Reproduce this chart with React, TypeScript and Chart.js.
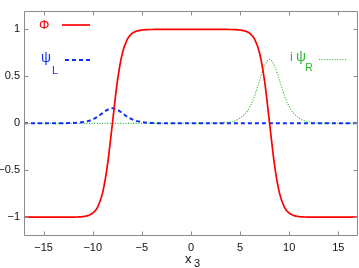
import React, { useEffect, useRef } from "react";
import { Chart, registerables } from "chart.js";

Chart.register(...registerables);

const X = [-17, -16.5, -16, -15.5, -15, -14.5, -14, -13.5, -13, -12.5, -12, -11.5, -11, -10.5, -10, -9.5, -9, -8.5, -8, -7.5, -7, -6.5, -6, -5.5, -5, -4.5, -4, -3.5, -3, -2.5, -2, -1.5, -1, -0.5, 0, 0.5, 1, 1.5, 2, 2.5, 3, 3.5, 4, 4.5, 5, 5.5, 6, 6.5, 7, 7.5, 8, 8.5, 9, 9.5, 10, 10.5, 11, 11.5, 12, 12.5, 13, 13.5, 14, 14.5, 15, 15.5, 16, 16.5, 17];

const PHI = [-1, -1, -1, -1, -1, -1, -1, -1, -0.9999, -0.9996, -0.999, -0.9975, -0.9934, -0.9829, -0.9566, -0.8915, -0.741, -0.4431, 0, 0.4431, 0.741, 0.8915, 0.9566, 0.9829, 0.9934, 0.9975, 0.999, 0.9996, 0.9999, 1, 1, 1, 1, 1, 1,
  1, 1, 1, 1, 1, 0.9999, 0.9996, 0.999, 0.9975, 0.9934, 0.9829, 0.9566, 0.8915, 0.741, 0.4431, 0, -0.4431, -0.741, -0.8915, -0.9566, -0.9829, -0.9934, -0.9975, -0.999, -0.9996, -0.9999, -1, -1, -1, -1, -1, -1, -1, -1];

const PSI_L = [0, 0, 0, 0, 0, 0, 0, 0, 0.001, 0.0019, 0.0036, 0.0068, 0.0128, 0.0235, 0.0419, 0.0705, 0.1083, 0.1444, 0.16, 0.1444, 0.1083, 0.0705, 0.0419, 0.0235, 0.0128, 0.0068, 0.0036, 0.0019, 0.001,
  0, 0, 0, 0, 0, 0, 0, 0, 0, 0, 0, 0, 0, 0, 0, 0, 0, 0, 0, 0, 0, 0, 0, 0, 0, 0, 0, 0, 0, 0, 0, 0, 0, 0, 0, 0, 0, 0, 0, 0];

const PSI_R = [0, 0, 0, 0, 0, 0, 0, 0, 0, 0, 0, 0, 0, 0, 0, 0, 0, 0, 0, 0, 0, 0, 0, 0, 0, 0, 0, 0, 0, 0, 0, 0, 0, 0, 0, 0,
  0.0003, 0.0006, 0.0012, 0.0022, 0.0043, 0.0082, 0.0154, 0.0291, 0.0544, 0.1, 0.178, 0.2998, 0.4603, 0.6138, 0.68, 0.6138, 0.4603, 0.2998, 0.178, 0.1, 0.0544, 0.0291, 0.0154, 0.0082, 0.0043, 0.0022, 0.0012, 0.0006, 0.0003,
  0, 0, 0, 0];

const X_TICKS = [-15, -10, -5, 0, 5, 10, 15];
const Y_TICKS = [-1, -0.5, 0, 0.5, 1];

const RED = "#ff0000";
const BLUE = "#1030f0";
const GREEN = "#30b830";
const FRAME = "#8a8a8a";
const FONT = '"Liberation Sans", Arial, sans-serif';

const pts = (ys: number[]) => X.map((x, i) => ({ x, y: ys[i] }));

const framePlugin = {
  id: "frame",
  afterDatasetsDraw(chart: any) {
    const { ctx, chartArea, scales } = chart;
    const l = Math.round(chartArea.left) + 0.5;
    const r = Math.round(chartArea.right) - 0.5;
    const t = Math.round(chartArea.top) + 0.5;
    const b = Math.round(chartArea.bottom) - 0.5;
    ctx.save();
    ctx.strokeStyle = FRAME;
    ctx.lineWidth = 1;
    ctx.setLineDash([]);
    ctx.beginPath();
    ctx.rect(l, t, r - l, b - t);
    const tl = 4;
    X_TICKS.forEach((v) => {
      const px = Math.round(scales.x.getPixelForValue(v)) + 0.5;
      ctx.moveTo(px, b);
      ctx.lineTo(px, b - tl);
      ctx.moveTo(px, t);
      ctx.lineTo(px, t + tl);
    });
    Y_TICKS.forEach((v) => {
      const py = Math.round(scales.y.getPixelForValue(v)) + 0.5;
      ctx.moveTo(l, py);
      ctx.lineTo(l + tl, py);
      ctx.moveTo(r, py);
      ctx.lineTo(r - tl, py);
    });
    ctx.stroke();

    // in-plot keys
    ctx.textBaseline = "alphabetic";
    ctx.textAlign = "left";
    // Phi
    ctx.fillStyle = RED;
    ctx.font = `13px ${FONT}`;
    ctx.fillText("Φ", 39, 29);
    ctx.strokeStyle = RED;
    ctx.lineWidth = 1.7;
    ctx.beginPath();
    ctx.moveTo(62, 25);
    ctx.lineTo(90, 25);
    ctx.stroke();
    // psi_L
    ctx.fillStyle = BLUE;
    ctx.font = `14px ${FONT}`;
    ctx.fillText("ψ", 41, 62);
    ctx.font = `11px ${FONT}`;
    ctx.fillText("L", 52, 74);
    ctx.strokeStyle = BLUE;
    ctx.lineWidth = 2;
    ctx.setLineDash([4, 3]);
    ctx.beginPath();
    ctx.moveTo(65, 60);
    ctx.lineTo(90, 60);
    ctx.stroke();
    // i psi_R
    ctx.setLineDash([]);
    ctx.fillStyle = GREEN;
    ctx.font = `13px ${FONT}`;
    ctx.fillText("i", 290, 61);
    ctx.font = `14px ${FONT}`;
    ctx.fillText("ψ", 296, 61);
    ctx.font = `11px ${FONT}`;
    ctx.fillText("R", 305, 71);
    ctx.strokeStyle = GREEN;
    ctx.lineWidth = 1.2;
    ctx.setLineDash([1, 1.6]);
    ctx.beginPath();
    ctx.moveTo(319, 59.5);
    ctx.lineTo(346, 59.5);
    ctx.stroke();
    ctx.setLineDash([]);

    // axis title x_3
    ctx.fillStyle = "#111";
    ctx.font = `13px ${FONT}`;
    ctx.fillText("x", 185, 263);
    ctx.font = `11px ${FONT}`;
    ctx.fillText("3", 194, 267);
    ctx.restore();
  },
};

export default function App() {
  const ref = useRef<HTMLCanvasElement>(null);
  useEffect(() => {
    document.body.style.margin = "0";
    const chart = new Chart(ref.current!, {
      type: "line",
      data: {
        datasets: [
          {
            label: "Φ",
            data: pts(PHI),
            borderColor: RED,
            borderWidth: 1.7,
            pointRadius: 0,
            cubicInterpolationMode: "monotone",
            fill: false,
          },
          {
            label: "ψL",
            data: pts(PSI_L),
            borderColor: BLUE,
            borderWidth: 2,
            borderDash: [4, 3],
            pointRadius: 0,
            cubicInterpolationMode: "monotone",
            fill: false,
          },
          {
            label: "iψR",
            data: pts(PSI_R),
            borderColor: GREEN,
            borderWidth: 1.2,
            borderDash: [1, 1.6],
            pointRadius: 0,
            cubicInterpolationMode: "monotone",
            fill: false,
          },
        ],
      },
      options: {
        animation: false,
        responsive: false,
        events: [],
        layout: { padding: { left: 0, right: 1, top: 0, bottom: 0 } },
        plugins: { legend: { display: false }, tooltip: { enabled: false } },
        scales: {
          x: {
            type: "linear",
            min: -17,
            max: 17,
            grid: { display: false, drawTicks: false },
            border: { display: false },
            afterBuildTicks: (s: any) => {
              s.ticks = X_TICKS.map((v) => ({ value: v }));
            },
            afterFit: (s: any) => {
              s.height = 32;
            },
            ticks: {
              padding: 5,
              maxRotation: 0,
              autoSkip: false,
              color: "#111",
              font: { family: FONT, size: 11 },
              callback: (v: any) => String(v).replace("-", "\u2212"),
            },
          },
          y: {
            type: "linear",
            min: -1.2,
            max: 1.2,
            grid: { display: false, drawTicks: false },
            border: { display: false },
            afterBuildTicks: (s: any) => {
              s.ticks = Y_TICKS.map((v) => ({ value: v }));
            },
            afterFit: (s: any) => {
              s.width = 24;
            },
            ticks: {
              padding: 4,
              autoSkip: false,
              color: "#111",
              font: { family: FONT, size: 11 },
              callback: (v: any) => String(v).replace("-", "\u2212"),
            },
          },
        },
      },
      plugins: [framePlugin],
    } as any);
    return () => chart.destroy();
  }, []);
  return <canvas ref={ref} width={359} height={268} style={{ display: "block" }} />;
}
